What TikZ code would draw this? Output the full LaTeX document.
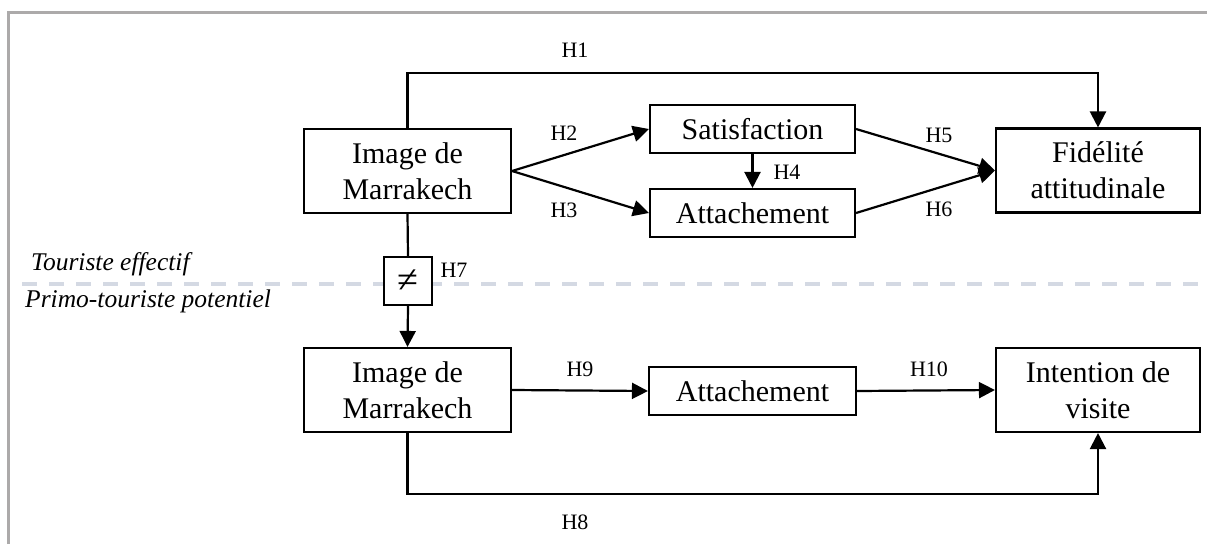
\documentclass[tikz,border=0pt]{standalone}
\usepackage{fontspec}
\setmainfont{Liberation Serif}
\usetikzlibrary{arrows.meta}
\definecolor{framegray}{RGB}{172,170,170}
\definecolor{dashgray}{RGB}{212,217,227}
\begin{document}
\begin{tikzpicture}[x=1pt,y=-1pt,
  box/.style={draw=black,line width=2.1pt,fill=white,inner sep=0pt,align=center,
    font=\fontsize{30}{36}\selectfont},
  hlab/.style={font=\fontsize{22}{24}\selectfont,inner sep=0pt},
  grp/.style={font=\fontsize{25.5}{28}\selectfont\itshape,inner sep=0pt,anchor=west},
  arr/.style={line width=2.2pt,-{Triangle[length=16pt,width=16pt]}},
  ln/.style={line width=2.2pt}]
\useasboundingbox (0,0) rectangle (1207,544);
\fill[white] (0,0) rectangle (1207,544);
% frame
\draw[framegray,line width=3pt] (8,544) -- (8,12) -- (1207,12);
% group separator
\draw[dashgray,line width=3.5pt,dash pattern=on 15pt off 12pt] (22,284) -- (1207,284);
\node[grp] (ge) at (31,264) {Touriste effectif};
\node[grp] (gp) at (25,301) {Primo-touriste potentiel};
% nodes
\node[box,minimum width=207pt,minimum height=84pt] (img1) at (407.5,171) {Image de\\Marrakech};
\node[box,minimum width=205pt,minimum height=48pt] (sat) at (752.5,129) {Satisfaction};
\node[box,minimum width=205pt,minimum height=48pt] (att1) at (752.5,213) {Attachement};
\node[box,minimum width=204pt,minimum height=84pt] (fid) at (1098,170.5) {Fidélité\\attitudinale};
\node[box,minimum width=48pt,minimum height=48pt,font=\fontsize{38}{40}\selectfont] (neq) at (408,281) {≠};
\node[box,minimum width=207pt,minimum height=84pt] (img2) at (407.5,390) {Image de\\Marrakech};
\node[box,minimum width=207pt,minimum height=48pt] (att2) at (752.5,391) {Attachement};
\node[box,minimum width=204pt,minimum height=84pt] (int) at (1098,390) {Intention de\\visite};
\coordinate (t1) at (0,73);
\coordinate (b8) at (0,494);
% connectors
\draw[arr] (img1.north) -- (img1.north |- t1) -| (fid.north);
\draw[arr] (img1.east) -- (sat.west);
\draw[arr] (img1.east) -- (att1.west);
\draw[arr] (sat.south) -- (att1.north);
\draw[arr] (sat.east) -- (fid.west);
\draw[arr] (att1.east) -- (fid.west);
\draw[ln] (img1.south) -- (neq.north);
\draw[arr] (neq.south) -- (img2.north);
\draw[arr] (img2.east) -- (att2.west);
\draw[arr] (att2.east) -- (int.west);
\draw[arr] (img2.south) -- (img2.south |- b8) -| (int.south);
% labels
\node[hlab] (l1) at (575,50) {H1};
\node[hlab] (l2) at (564,133) {H2};
\node[hlab] (l3) at (564,210) {H3};
\node[hlab] (l4) at (787,172) {H4};
\node[hlab] (l5) at (939,135) {H5};
\node[hlab] (l6) at (939,209) {H6};
\node[hlab] (l7) at (454,270) {H7};
\node[hlab] (l9) at (580,369) {H9};
\node[hlab] (l10) at (929,369) {H10};
\node[hlab] (l8) at (575,522) {H8};
\end{tikzpicture}
\end{document}
